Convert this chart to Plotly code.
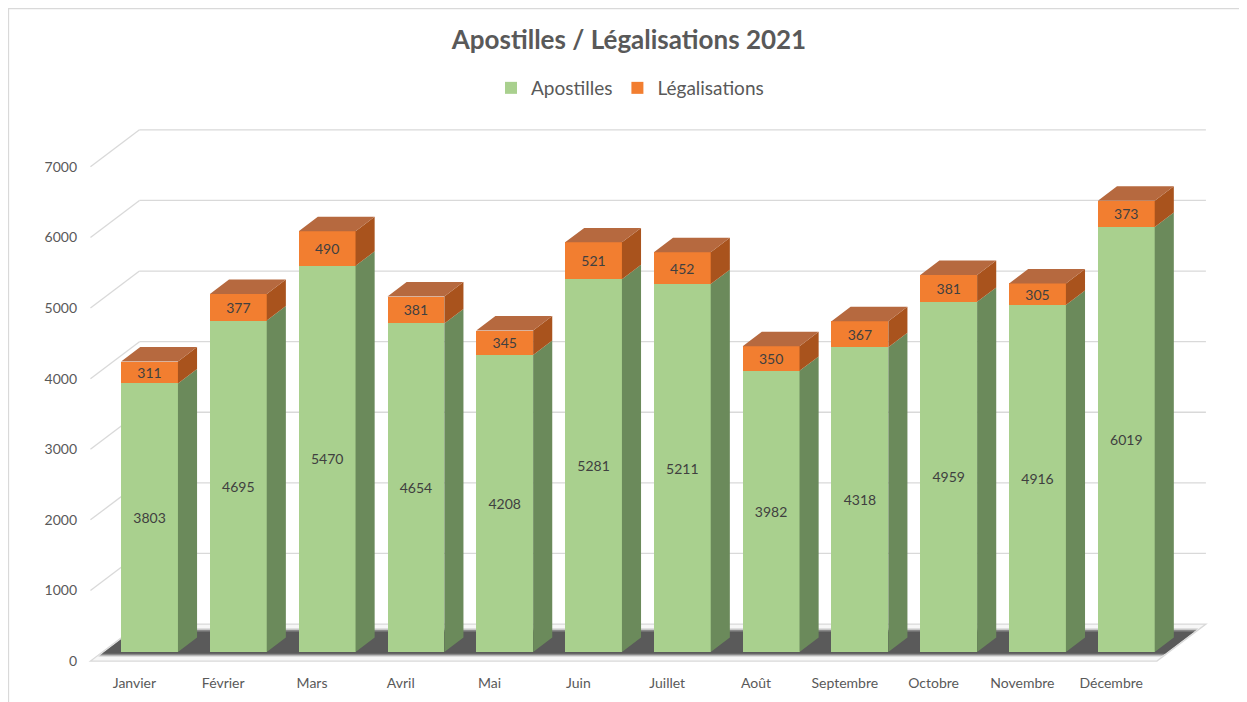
import plotly.graph_objects as go

# -------------------------
# DONNEES
# -------------------------
mois = ["Janvier", "Février", "Mars", "Avril", "Mai", "Juin", "Juillet",
        "Août", "Septembre", "Octobre", "Novembre", "Décembre"]
apostilles = [3803, 4695, 5470, 4654, 4208, 5281, 5211, 3982, 4318, 4959, 4916, 6019]
legalisations = [311, 377, 490, 381, 345, 521, 452, 350, 367, 381, 305, 373]
graduations = [0, 1000, 2000, 3000, 4000, 5000, 6000, 7000]

# -------------------------
# PSEUDO 3D (projection oblique)
# -------------------------
D0 = 0.245          # profondeur du plan avant des barres
DX, DY = 0.552, 524  # decalage x / y pour toute la profondeur
BW = 0.64           # largeur des barres
BD = 0.39           # profondeur des barres
XL, XR = -0.53, 11.48

GREEN, GREEN_SIDE = "#A9D08E", "#6B8A5B"
ORANGE, ORANGE_SIDE, ORANGE_TOP = "#F27E30", "#A9531D", "#B6693F"
GRID = "#D9D9D9"


def p(x, v, d):
    return x + (d - D0) * DX, v + (d - D0) * DY


def poly(points):
    xs, ys = [], []
    for pt in points:
        xs.append(pt[0])
        ys.append(pt[1])
    xs.append(points[0][0])
    ys.append(points[0][1])
    return xs, ys


def path(points):
    s = "M " + " L ".join(f"{x},{y}" for x, y in points) + " Z"
    return s


fig = go.Figure()

# faces avant (barres empilees)
x_idx = list(range(len(mois)))
fig.add_trace(go.Bar(
    x=x_idx, y=apostilles, name="Apostilles", width=BW,
    marker=dict(color=GREEN, line=dict(width=0)),
    text=apostilles, textposition="inside", insidetextanchor="middle",
    constraintext="none", textangle=0,
    textfont=dict(family="Lato", size=14, color="#404040"),
))
fig.add_trace(go.Bar(
    x=x_idx, y=legalisations, name="Légalisations", width=BW,
    marker=dict(color=ORANGE, line=dict(width=0)),
    text=legalisations, textposition="inside", insidetextanchor="middle",
    constraintext="none", textangle=0,
    textfont=dict(family="Lato", size=14, color="#404040"),
))

# faces laterales et dessus
def add_faces(segments, color):
    xs, ys = [], []
    for pts in segments:
        px, py = poly(pts)
        xs += px + [None]
        ys += py + [None]
    fig.add_trace(go.Scatter(
        x=xs, y=ys, mode="lines", fill="toself", fillcolor=color,
        line=dict(width=0, color=color), showlegend=False, hoverinfo="skip",
    ))


side_green, side_orange, tops = [], [], []
for i, (a, l) in enumerate(zip(apostilles, legalisations)):
    xr = i + BW / 2
    xl = i - BW / 2
    tot = a + l
    side_green.append([p(xr, 0, D0), p(xr, 0, D0 + BD), p(xr, a, D0 + BD), p(xr, a, D0)])
    side_orange.append([p(xr, a, D0), p(xr, a, D0 + BD), p(xr, tot, D0 + BD), p(xr, tot, D0)])
    tops.append([p(xl, tot, D0), p(xr, tot, D0), p(xr, tot, D0 + BD), p(xl, tot, D0 + BD)])

add_faces(side_green, GREEN_SIDE)
add_faces(side_orange, ORANGE_SIDE)
add_faces(tops, ORANGE_TOP)

# grille (murs) et sol
shapes = []
for t in graduations[1:]:
    for a, b in [(p(XL, t, 0), p(XL, t, 1)), (p(XL, t, 1), p(XR, t, 1))]:
        shapes.append(dict(type="line", xref="x", yref="y", x0=a[0], y0=a[1],
                           x1=b[0], y1=b[1], line=dict(color=GRID, width=1.3),
                           layer="below"))

sol = [p(XL, 0, 0), p(XR, 0, 0), p(XR, 0, 1), p(XL, 0, 1)]
shapes.append(dict(type="path", path=path(sol), xref="x", yref="y",
                   fillcolor="#F7F7F7", line=dict(color=GRID, width=1.3), layer="below"))
for d0, d1, col in [(0.12, 0.88, "#C8C8C8"), (0.16, 0.84, "#8A8A8A"), (0.2, 0.8, "#5A5A5A")]:
    ombre = [p(XL + 0.02, 0, d0), p(XR - 0.02, 0, d0), p(XR - 0.02, 0, d1), p(XL + 0.02, 0, d1)]
    shapes.append(dict(type="path", path=path(ombre), xref="x", yref="y",
                       fillcolor=col, line=dict(width=0), layer="below"))

# cadre du graphique
shapes.append(dict(type="rect", xref="paper", yref="paper", x0=-0.0630, y0=-0.2,
                   x1=1.2, y1=1.2027, line=dict(color=GRID, width=1.3)))

fig.update_layout(
    width=1247, height=702,
    barmode="stack",
    paper_bgcolor="white", plot_bgcolor="white",
    margin=dict(l=72, r=40, t=112, b=40),
    font=dict(family="Lato", color="#595959"),
    title=dict(text="<b>Apostilles / Légalisations 2021</b>", x=621 / 1247, y=1 - 32 / 702,
               xanchor="center", yanchor="middle", xref="container", yref="container",
               font=dict(size=26, color="#595959")),
    legend=dict(orientation="h", x=622 / 1247, y=1 - 80 / 702, xref="container",
                yref="container", xanchor="center", yanchor="middle",
                font=dict(size=19, color="#595959"), traceorder="normal"),
    shapes=shapes,
    showlegend=True,
)
fig.update_xaxes(
    range=[-0.783, 11.999], showgrid=False, zeroline=False, showline=False,
    tickvals=[i - 0.17 for i in x_idx], ticktext=mois, ticklabelstandoff=3,
    tickfont=dict(size=14, color="#595959"), ticks="", fixedrange=True,
)
fig.update_yaxes(
    range=[-255, 7535], showgrid=False, zeroline=False, showline=False,
    tickvals=[p(0, t, 0)[1] for t in graduations], ticktext=[str(t) for t in graduations],
    ticklabelstandoff=2,
    tickfont=dict(size=14, color="#595959"), ticks="", fixedrange=True,
)

fig.write_html("out.html")
